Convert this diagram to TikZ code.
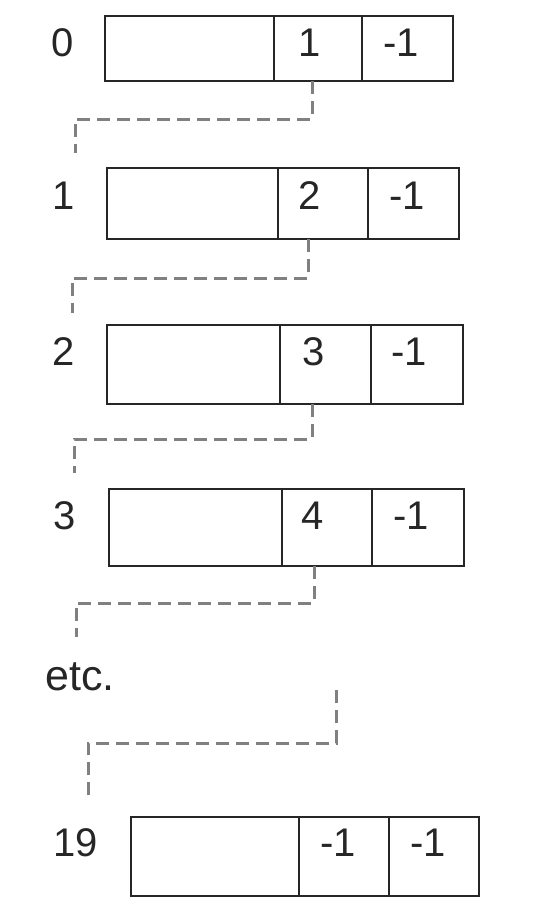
\documentclass[tikz,border=0pt]{standalone}
\usepackage{fontspec}
\setmainfont{Liberation Sans}
\tikzset{
  cell/.style={draw=black!85, line width=1.6pt, rectangle, inner sep=0pt, outer sep=0pt, anchor=north west},
  txt/.style={anchor=base, inner sep=0pt, font=\fontsize{40}{44}\selectfont, text=black!85},
  link/.style={draw=black!50, line width=3pt, dash pattern=on 13pt off 7pt}
}
% name, L, R, T, B, d1, d2
\newcommand{\cellrow}[7]{%
  \node[cell, minimum width={#6-#2}, minimum height={#5-#4}] (#1a) at (#2,#4) {};
  \node[cell, minimum width={#7-#6}, minimum height={#5-#4}] (#1b) at (#6,#4) {};
  \node[cell, minimum width={#3-#7}, minimum height={#5-#4}] (#1c) at (#7,#4) {};
}
\begin{document}
\begin{tikzpicture}[x=1pt,y=-1pt]
\useasboundingbox (0,0) rectangle (535,914);

\cellrow{r0}{105}{453}{16}{81}{274}{362}
\cellrow{r1}{107}{459}{168}{239}{278}{368}
\cellrow{r2}{107}{463}{325}{404}{280}{371}
\cellrow{r3}{109}{464}{489}{566}{282}{372}
\cellrow{r19}{131}{479}{817}{896}{299}{389}

\node[txt] (l0) at (63,56) {0};
\node[txt] (t0b) at (310,56) {1};
\node[txt] (t0c) at (401,56) {-1};

\node[txt] (l1) at (64,209) {1};
\node[txt] (t1b) at (310,209) {2};
\node[txt] (t1c) at (407,209) {-1};

\node[txt] (l2) at (64,365) {2};
\node[txt] (t2b) at (314,365) {3};
\node[txt] (t2c) at (409,365) {-1};

\node[txt] (l3) at (65,529) {3};
\node[txt] (t3b) at (313,529) {4};
\node[txt] (t3c) at (411,529) {-1};

\node[txt, font=\fontsize{43}{47}\selectfont] (etc) at (80,690) {etc.};

\node[txt] (l19) at (76,856) {19};
\node[txt] (t19b) at (338,856) {-1};
\node[txt] (t19c) at (428,856) {-1};

% connectors
\coordinate (x0) at (312,0);
\coordinate (m0) at (75,119);
\coordinate (e0) at (75,153);
\draw[link] (r0b.south -| x0) |- (m0) -- (e0);

\coordinate (x1) at (308,0);
\coordinate (m1) at (72,278);
\coordinate (e1) at (72,313);
\draw[link] (r1b.south -| x1) |- (m1) -- (e1);

\coordinate (x2) at (312,0);
\coordinate (m2) at (74,439);
\coordinate (e2) at (74,473);
\draw[link] (r2b.south -| x2) |- (m2) -- (e2);

\coordinate (x3) at (314,0);
\coordinate (m3) at (76,603);
\coordinate (e3) at (76,637);
\draw[link] (r3b.south -| x3) |- (m3) -- (e3);

\coordinate (s4) at (336,690);
\coordinate (m4) at (88,743);
\coordinate (e4) at (88,795);
\draw[link] (s4) |- (m4) -- (e4);
\end{tikzpicture}
\end{document}
